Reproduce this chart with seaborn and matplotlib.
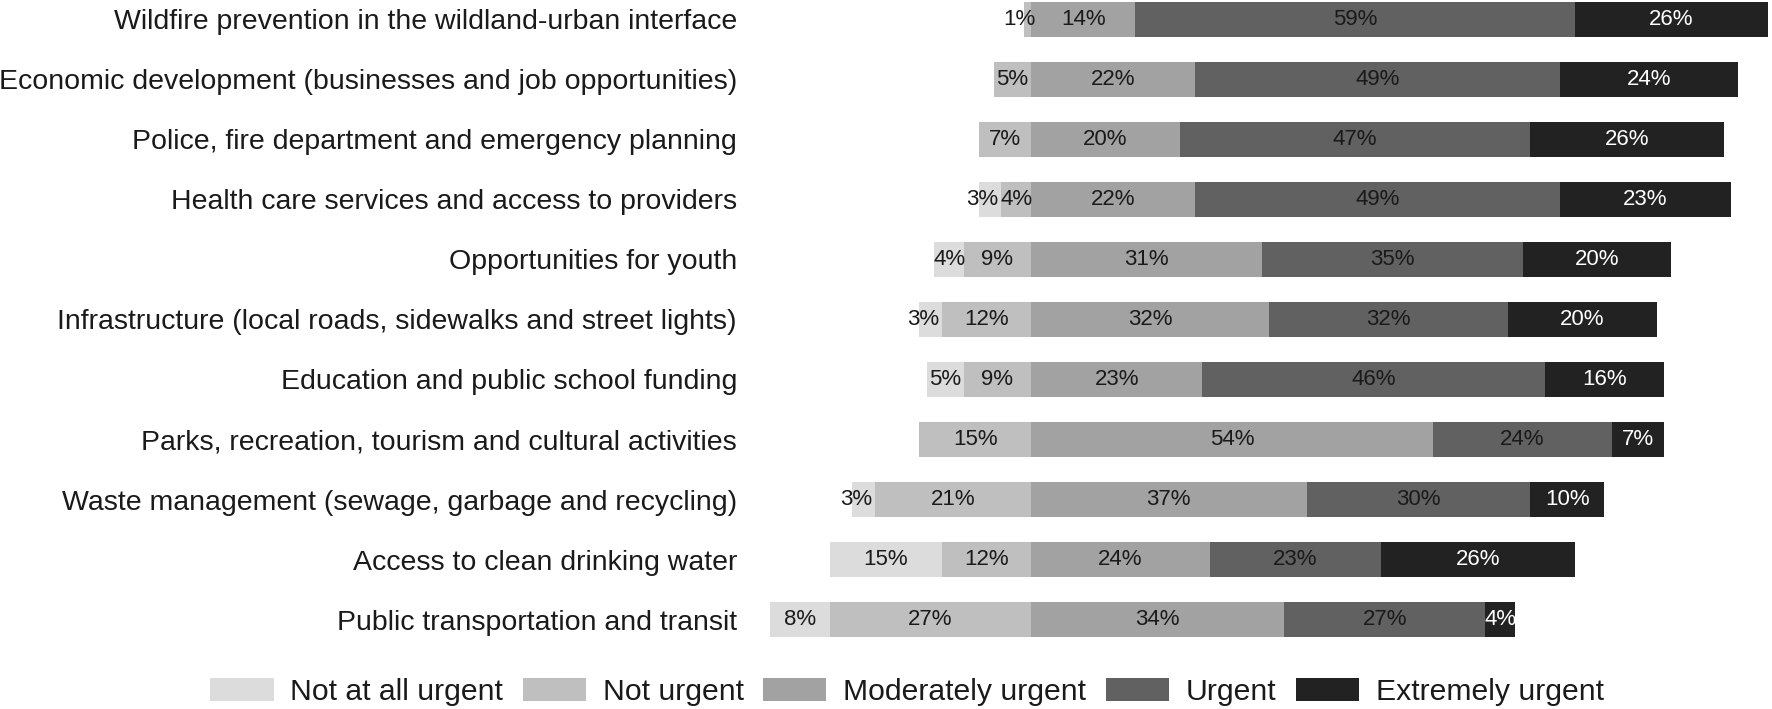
import matplotlib
matplotlib.use('Agg')
import numpy as np
import pandas as pd
import seaborn as sns
import matplotlib.pyplot as plt
from matplotlib.patches import Patch

topics = [
    'Wildfire prevention in the wildland-urban interface',
    'Economic development (businesses and job opportunities)',
    'Police, fire department and emergency planning',
    'Health care services and access to providers',
    'Opportunities for youth',
    'Infrastructure (local roads, sidewalks and street lights)',
    'Education and public school funding',
    'Parks, recreation, tourism and cultural activities',
    'Waste management (sewage, garbage and recycling)',
    'Access to clean drinking water',
    'Public transportation and transit',
]
not_at_all = [0, 0, 0, 3, 4, 3, 5, 0, 3, 15, 8]
not_urgent = [1, 5, 7, 4, 9, 12, 9, 15, 21, 12, 27]
moderately = [14, 22, 20, 22, 31, 32, 23, 54, 37, 24, 34]
urgent = [59, 49, 47, 49, 35, 32, 46, 24, 30, 23, 27]
extremely = [26, 24, 26, 23, 20, 20, 16, 7, 10, 26, 4]

levels = ['Not at all urgent', 'Not urgent', 'Moderately urgent', 'Urgent', 'Extremely urgent']
colors = ['#dcdcdc', '#bfbfbf', '#a2a2a2', '#616161', '#222222']

sns.set_theme(style='white')
plt.rcParams['font.family'] = ['Liberation Sans', 'DejaVu Sans']

df = pd.DataFrame({
    'topic': topics,
    'not_at_all': not_at_all,
    'not_urgent': not_urgent,
    'moderately': moderately,
    'urgent': urgent,
    'extremely': extremely,
})
# cumulative ends, right side from 0 and left side to negative
df['r3'] = df['moderately'] + df['urgent'] + df['extremely']
df['r2'] = df['moderately'] + df['urgent']
df['r1'] = df['moderately']
df['l2'] = -(df['not_at_all'] + df['not_urgent'])
df['l1'] = -df['not_urgent']

W, H = 1772, 709
fig = plt.figure(figsize=(W / 100, H / 100), dpi=100)
ax = fig.add_axes([748 / W, 1 - 655.5 / H, 1024 / W, 655.5 / H])

layers = [('r3', colors[4]), ('r2', colors[3]), ('r1', colors[2]),
          ('l2', colors[0]), ('l1', colors[1])]
for col, c in layers:
    sns.barplot(data=df, x=col, y='topic', orient='h', color=c, saturation=1,
                width=0.58, linewidth=0, errorbar=None, ax=ax)

# segment labels (tiny left segments get nudged outward a bit)
for i, row in df.iterrows():
    segs = [
        (-row['not_at_all'] - row['not_urgent'], row['not_at_all'], '#1a1a1a'),
        (-row['not_urgent'], row['not_urgent'], '#1a1a1a'),
        (0, row['moderately'], '#1a1a1a'),
        (row['moderately'], row['urgent'], '#1a1a1a'),
        (row['moderately'] + row['urgent'], row['extremely'], 'white'),
    ]
    for k, (start, v, tc) in enumerate(segs):
        if v > 0:
            xc = start + v / 2
            if k < 2 and v <= 3:
                xc -= 1
            ax.text(xc, i, f'{v}%', ha='center', va='center',
                    fontsize=16, color=tc)

ax.set_xlim(-38, 99.5)
ax.set_ylim(10.6, -0.325)
ax.set_xlabel('')
ax.set_ylabel('')
ax.set_xticks([])
ax.tick_params(axis='y', length=0, pad=8, labelsize=20.5, labelcolor='#1a1a1a')
sns.despine(ax=ax, left=True, bottom=True)

handles = [Patch(facecolor=c, edgecolor='none', label=l) for l, c in zip(levels, colors)]
fig.legend(handles=handles, loc='center', bbox_to_anchor=(907 / W, 0.024), ncol=5,
           frameon=False, fontsize=21.7, handlelength=2.1, handleheight=0.75,
           handletextpad=0.55, columnspacing=0.65, labelcolor='#1a1a1a')

fig.savefig('out.png', dpi=100)
